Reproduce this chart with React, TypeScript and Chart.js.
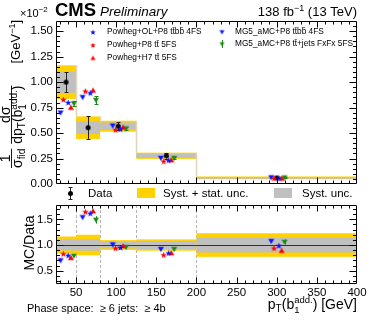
import React, { useEffect, useRef } from "react";
import { Chart, registerables } from "chart.js";
Chart.register(...registerables);

const FONT = '"Liberation Sans", Arial, Helvetica, sans-serif';

// ---------------- data ----------------
const binEdges = [25, 50, 80, 125, 200, 400];
const dataValues = [1.0, 0.553, 0.567, 0.277, 0.06];
const dataErrors = [0.097, 0.11, 0.04, 0.028, 0.005];
const totalUncRel = [0.165, 0.2, 0.095, 0.11, 0.23];
const systUncRel = [0.105, 0.11, 0.065, 0.08, 0.145];

const powhegOL = [0.8, 0.895, 0.54, 0.234, 0.0594];
const powhegP8 = [0.83, 0.912, 0.533, 0.224, 0.0564];
const powhegH7 = [0.75, 0.918, 0.556, 0.234, 0.0534];
const mg5ttbb = [0.7, 0.852, 0.573, 0.255, 0.0645];
const mg5fxfx = [0.79, 0.824, 0.545, 0.255, 0.0636];
const mg5fxfxErr = [0.02, 0.04, 0.015, 0.008, 0.003];

const seriesLabels = [
  "Powheg+OL+P8 tt\u0304bb\u0304 4FS",
  "Powheg+P8 tt\u0304 5FS",
  "Powheg+H7 tt\u0304 5FS",
  "MG5_aMC+P8 tt\u0304bb\u0304 4FS",
  "MG5_aMC+P8 tt\u0304+jets FxFx 5FS",
];
const seriesValues = [powhegOL, powhegP8, powhegH7, mg5ttbb, mg5fxfx];
const seriesErrors = [null, null, null, null, mg5fxfxErr];
const seriesColors = ["#0a14ff", "#ff0000", "#ff0000", "#0a14ff", "#1a8a1a"];
const seriesShapes = ["star", "star", "up", "down", "down"];
const seriesPixelShift = [2.2, -2.7, 4.9, -5.5, 7.8];

const upperYTicks = [0, 0.25, 0.5, 0.75, 1.0, 1.25, 1.5];
const ratioYTicks = [0.5, 1.0, 1.5];
const xTicks = [50, 100, 150, 200, 250, 300, 350, 400];

const YELLOW = "#ffd200";
const GRAY = "#c0c0c0";

// ---------------- helpers ----------------
function makeMarker(shape: string, color: string, size: number): HTMLCanvasElement {
  const s = Math.ceil(size) + 2;
  const c = document.createElement("canvas");
  c.width = s;
  c.height = s;
  const g = c.getContext("2d")!;
  g.fillStyle = color;
  const cx = s / 2,
    cy = s / 2,
    r = size / 2;
  g.beginPath();
  if (shape === "star") {
    for (let i = 0; i < 10; i++) {
      const a = -Math.PI / 2 + (i * Math.PI) / 5;
      const rr = i % 2 === 0 ? r : r * 0.42;
      const px = cx + rr * Math.cos(a),
        py = cy + rr * Math.sin(a) + 0.4;
      if (i === 0) g.moveTo(px, py);
      else g.lineTo(px, py);
    }
    g.closePath();
  } else if (shape === "up") {
    g.moveTo(cx, cy - r);
    g.lineTo(cx + r, cy + r * 0.75);
    g.lineTo(cx - r, cy + r * 0.75);
    g.closePath();
  } else if (shape === "down") {
    g.moveTo(cx, cy + r);
    g.lineTo(cx + r, cy - r * 0.75);
    g.lineTo(cx - r, cy - r * 0.75);
    g.closePath();
  } else {
    g.arc(cx, cy, r, 0, Math.PI * 2);
  }
  g.fill();
  return c;
}

type Piece = { t: string; size: number; dy?: number; style?: string; adv?: number };
function font(p: Piece) {
  return `${p.style ?? ""} ${p.size}px ${FONT}`;
}
function richWidth(ctx: CanvasRenderingContext2D, parts: Piece[]) {
  let w = 0;
  for (const p of parts) {
    ctx.font = font(p);
    w += p.adv !== undefined ? p.adv : ctx.measureText(p.t).width;
  }
  return w;
}
function drawRich(ctx: CanvasRenderingContext2D, parts: Piece[], x: number, y: number) {
  let cx = x;
  ctx.textAlign = "left";
  ctx.textBaseline = "alphabetic";
  for (const p of parts) {
    ctx.font = font(p);
    ctx.fillText(p.t, cx, y + (p.dy ?? 0));
    cx += p.adv !== undefined ? p.adv : ctx.measureText(p.t).width;
  }
  return cx - x;
}

function applyShifts(chart: any) {
  chart.data.datasets.forEach((ds: any, i: number) => {
    const meta = chart.getDatasetMeta(i);
    const sh = ds.pxShift || 0;
    meta.data.forEach((el: any) => {
      el.x += sh;
    });
  });
}

function drawErrorBars(chart: any, cap: number) {
  const { ctx, scales } = chart;
  const y = scales.y;
  chart.data.datasets.forEach((ds: any, i: number) => {
    if (!ds.errs) return;
    const meta = chart.getDatasetMeta(i);
    ctx.strokeStyle = ds.errColor;
    ctx.lineWidth = 1;
    meta.data.forEach((el: any, j: number) => {
      const v = ds.data[j].y;
      const e = ds.errs[j];
      const x = Math.round(el.x) + 0.5;
      const y0 = y.getPixelForValue(v + e);
      const y1 = y.getPixelForValue(v - e);
      ctx.beginPath();
      ctx.moveTo(x, y0);
      ctx.lineTo(x, y1);
      if (cap > 0) {
        ctx.moveTo(x - cap, Math.round(y0) + 0.5);
        ctx.lineTo(x + cap, Math.round(y0) + 0.5);
        ctx.moveTo(x - cap, Math.round(y1) + 0.5);
        ctx.lineTo(x + cap, Math.round(y1) + 0.5);
      }
      ctx.stroke();
    });
  });
}

function drawFrame(
  ctx: CanvasRenderingContext2D,
  a: any,
  xs: any,
  ys: any,
  yMajor: number[],
  yMinorStep: number,
  yMin: number,
  yMax: number
) {
  ctx.save();
  ctx.strokeStyle = "#000";
  ctx.lineWidth = 1;
  const L = Math.round(a.left) + 0.5,
    R = Math.round(a.right) - 0.5,
    T = Math.round(a.top) + 0.5,
    B = Math.round(a.bottom) - 0.5;
  ctx.beginPath();
  ctx.rect(L, T, R - L, B - T);
  ctx.stroke();
  ctx.beginPath();
  for (let v = 30; v < 400; v += 10) {
    const px = Math.round(xs.getPixelForValue(v)) + 0.5;
    const len = v % 50 === 0 ? 6 : 3;
    ctx.moveTo(px, B);
    ctx.lineTo(px, B - len);
    ctx.moveTo(px, T);
    ctx.lineTo(px, T + len);
  }
  const steps = Math.round((yMax - yMin) / yMinorStep) + 2;
  const start = Math.ceil(yMin / yMinorStep - 1e-6) * yMinorStep;
  for (let k = 0; k < steps; k++) {
    const v = start + k * yMinorStep;
    if (v <= yMin + 1e-6 || v >= yMax - 1e-6) continue;
    const py = Math.round(ys.getPixelForValue(v)) + 0.5;
    const major = yMajor.some((m) => Math.abs(m - v) < 1e-6);
    const len = major ? 7 : 3.5;
    ctx.moveTo(L, py);
    ctx.lineTo(L + len, py);
    ctx.moveTo(R, py);
    ctx.lineTo(R - len, py);
  }
  ctx.stroke();
  ctx.restore();
}

const commonOpts: any = {
  responsive: false,
  animation: false,
  events: [],
  plugins: { legend: { display: false }, tooltip: { enabled: false } },
};

export default function App() {
  const upRef = useRef<HTMLCanvasElement>(null);
  const loRef = useRef<HTMLCanvasElement>(null);

  useEffect(() => {
    const centers = binEdges.slice(0, -1).map((e, i) => (e + binEdges[i + 1]) / 2);
    const markers = seriesShapes.map((s, i) => makeMarker(s, seriesColors[i], s === "star" ? 7 : 6));
    const legMarkers = seriesShapes.map((s, i) => makeMarker(s, seriesColors[i], s === "star" ? 6 : 5));
    const dot = makeMarker("circle", "#000", 5);

    const mcUpper = seriesValues.map((vals, k) => ({
      data: centers.map((x, i) => ({ x, y: vals[i] })),
      pointStyle: markers[k],
      pointRadius: 3,
      showLine: false,
      pxShift: seriesPixelShift[k],
      errs: seriesErrors[k],
      errColor: seriesColors[k],
    }));
    const dataDs = {
      data: centers.map((x, i) => ({ x, y: dataValues[i] })),
      pointStyle: dot,
      pointRadius: 3,
      showLine: false,
      pxShift: 0,
      errs: dataErrors,
      errColor: "#222",
    };

    const upperPlugin = {
      id: "upperDeco",
      afterDatasetsUpdate(chart: any) {
        applyShifts(chart);
      },
      beforeDatasetsDraw(chart: any) {
        const { ctx, chartArea: a, scales } = chart;
        const x = scales.x,
          y = scales.y;
        ctx.save();
        ctx.beginPath();
        ctx.rect(a.left, a.top, a.right - a.left, a.bottom - a.top);
        ctx.clip();
        for (let i = 0; i < dataValues.length; i++) {
          const x0 = x.getPixelForValue(binEdges[i]);
          const x1 = x.getPixelForValue(binEdges[i + 1]);
          const v = dataValues[i];
          const yt0 = y.getPixelForValue(v * (1 + totalUncRel[i]));
          const yt1 = y.getPixelForValue(v * (1 - totalUncRel[i]));
          ctx.fillStyle = YELLOW;
          ctx.fillRect(x0, yt0, x1 - x0, yt1 - yt0);
          const ys0 = y.getPixelForValue(v * (1 + systUncRel[i]));
          const ys1 = y.getPixelForValue(v * (1 - systUncRel[i]));
          ctx.fillStyle = GRAY;
          ctx.fillRect(x0, ys0, x1 - x0, ys1 - ys0);
        }
        ctx.strokeStyle = "#dcd6bc";
        ctx.lineWidth = 1.5;
        ctx.beginPath();
        for (let i = 1; i < dataValues.length; i++) {
          const xe = Math.round(x.getPixelForValue(binEdges[i])) + 0.5;
          const ya = y.getPixelForValue(dataValues[i - 1] * (1 + totalUncRel[i - 1]));
          const yb = y.getPixelForValue(dataValues[i] * (1 + totalUncRel[i]));
          ctx.moveTo(xe, ya);
          ctx.lineTo(xe, yb);
        }
        ctx.stroke();
        drawErrorBars(chart, 2);
        ctx.restore();
      },
      afterDraw(chart: any) {
        const { ctx, chartArea: a, scales } = chart;
        drawFrame(ctx, a, scales.x, scales.y, upperYTicks, 0.05, 0, 1.6);
        ctx.save();
        ctx.fillStyle = "#000";
        drawRich(ctx, [{ t: "CMS", size: 18.5, style: "bold" }], 55, 16);
        drawRich(ctx, [{ t: "Preliminary", size: 13.5, style: "italic" }], 100, 16);
        const lumi: Piece[] = [
          { t: "138 fb", size: 13 },
          { t: "\u22121", size: 9, dy: -5 },
          { t: " (13 TeV)", size: 13 },
        ];
        drawRich(ctx, lumi, 357 - richWidth(ctx, lumi), 16);
        drawRich(
          ctx,
          [
            { t: "\u00d710", size: 11 },
            { t: "\u22122", size: 8, dy: -5 },
          ],
          20,
          17
        );
        const legPos = [
          [93, 107, 32],
          [93, 107, 45],
          [93, 107, 58],
          [222, 235, 32],
          [222, 235, 44],
        ];
        seriesLabels.forEach((lab, k) => {
          const [mx, tx, ty] = legPos[k];
          const m = legMarkers[k];
          ctx.drawImage(m, mx - m.width / 2, ty - m.height / 2);
          if (k === 4) {
            ctx.strokeStyle = seriesColors[k];
            ctx.beginPath();
            ctx.moveTo(mx + 0.5, ty - 4);
            ctx.lineTo(mx + 0.5, ty + 4);
            ctx.stroke();
          }
          ctx.fillStyle = "#000";
          ctx.font = `8.3px ${FONT}`;
          ctx.textBaseline = "middle";
          ctx.fillText(lab, tx, ty);
        });
        ctx.strokeStyle = "#222";
        ctx.lineWidth = 1;
        ctx.beginPath();
        ctx.moveTo(70.5, 187);
        ctx.lineTo(70.5, 200);
        ctx.moveTo(68.5, 187.5);
        ctx.lineTo(72.5, 187.5);
        ctx.moveTo(68.5, 199.5);
        ctx.lineTo(72.5, 199.5);
        ctx.stroke();
        ctx.drawImage(dot, 70.5 - dot.width / 2, 193.5 - dot.height / 2);
        ctx.fillStyle = YELLOW;
        ctx.fillRect(137, 188, 18, 10);
        ctx.fillStyle = GRAY;
        ctx.fillRect(274, 188, 18, 10);
        ctx.fillStyle = "#000";
        drawRich(ctx, [{ t: "Data", size: 11.5 }], 88, 197);
        drawRich(ctx, [{ t: "Syst. + stat. unc.", size: 11.5 }], 163, 197);
        drawRich(ctx, [{ t: "Syst. unc.", size: 11.5 }], 302, 197);
        // y title (rotated): local x = upward along page
        ctx.save();
        ctx.translate(0, 170);
        ctx.rotate(-Math.PI / 2);
        const fs = 14;
        const ss = 10;
        const lineY = 11.5;
        const numY = 10;
        const denY = 22;
        ctx.strokeStyle = "#000";
        ctx.lineWidth = 0.9;
        const denA: Piece[] = [
          { t: "\u03c3", size: fs },
          { t: "fid", size: ss, dy: 3 },
        ];
        const wA = richWidth(ctx, denA);
        ctx.font = `${fs}px ${FONT}`;
        const w1 = ctx.measureText("1").width;
        let u = 2;
        drawRich(ctx, [{ t: "1", size: fs }], u + (wA - w1) / 2, numY);
        drawRich(ctx, denA, u, denY);
        ctx.beginPath();
        ctx.moveTo(u, lineY);
        ctx.lineTo(u + wA, lineY);
        ctx.stroke();
        u += wA + 5;
        const denB: Piece[] = [
          { t: "dp", size: fs },
          { t: "T", size: ss, dy: 3 },
          { t: "(b", size: fs },
          { t: "1", size: ss, dy: 3.5, adv: 0 },
          { t: "add.", size: ss, dy: -5.5 },
          { t: ")", size: fs },
        ];
        const wB = richWidth(ctx, denB);
        const numB: Piece[] = [{ t: "d\u03c3", size: fs }];
        const wN = richWidth(ctx, numB);
        drawRich(ctx, numB, u + (wB - wN) / 2, numY);
        drawRich(ctx, denB, u, denY);
        ctx.beginPath();
        ctx.moveTo(u, lineY);
        ctx.lineTo(u + wB, lineY);
        ctx.stroke();
        const gev: Piece[] = [
          { t: "[GeV", size: 13 },
          { t: "\u22121", size: 9, dy: -5 },
          { t: "]", size: 13 },
        ];
        const wG = richWidth(ctx, gev);
        drawRich(ctx, gev, 150 - wG, 20);
        ctx.restore();
        ctx.restore();
      },
    };

    const upper = new Chart(upRef.current!, {
      type: "scatter",
      data: { datasets: [...mcUpper, dataDs] as any },
      options: {
        ...commonOpts,
        layout: { padding: { left: 0, right: 16, top: 21, bottom: 16 } },
        scales: {
          x: { type: "linear", min: 25, max: 400, display: false },
          y: {
            type: "linear",
            min: 0,
            max: 1.6,
            grid: { display: false, drawTicks: false },
            border: { display: false },
            afterBuildTicks: (s: any) => {
              s.ticks = upperYTicks.map((v) => ({ value: v }));
            },
            ticks: {
              callback: (v: any) => Number(v).toFixed(2),
              font: { family: FONT, size: 11.5 },
              color: "#000",
              padding: 3,
            },
            afterFit: (s: any) => {
              s.width = 56;
              s.paddingTop = 0;
              s.paddingBottom = 0;
            },
          } as any,
        },
      },
      plugins: [upperPlugin],
    });

    const mcRatio = seriesValues.map((vals, k) => ({
      data: centers.map((x, i) => ({ x, y: vals[i] / dataValues[i] })),
      pointStyle: markers[k],
      pointRadius: 3,
      showLine: false,
      pxShift: seriesPixelShift[k],
      errs: seriesErrors[k] ? (seriesErrors[k] as number[]).map((e, i) => e / dataValues[i]) : null,
      errColor: seriesColors[k],
    }));

    const lowerPlugin = {
      id: "lowerDeco",
      afterDatasetsUpdate(chart: any) {
        applyShifts(chart);
      },
      beforeDatasetsDraw(chart: any) {
        const { ctx, chartArea: a, scales } = chart;
        const x = scales.x,
          y = scales.y;
        ctx.save();
        ctx.beginPath();
        ctx.rect(a.left, a.top, a.right - a.left, a.bottom - a.top);
        ctx.clip();
        ctx.strokeStyle = "#b4b4b4";
        ctx.lineWidth = 1;
        ctx.setLineDash([3, 2]);
        ctx.beginPath();
        for (let i = 1; i < binEdges.length - 1; i++) {
          const xe = Math.round(x.getPixelForValue(binEdges[i])) + 0.5;
          ctx.moveTo(xe, a.top);
          ctx.lineTo(xe, a.bottom);
        }
        ctx.stroke();
        ctx.setLineDash([]);
        for (let i = 0; i < dataValues.length; i++) {
          const x0 = x.getPixelForValue(binEdges[i]);
          const x1 = x.getPixelForValue(binEdges[i + 1]);
          const yt0 = y.getPixelForValue(1 + totalUncRel[i]);
          const yt1 = y.getPixelForValue(1 - totalUncRel[i]);
          ctx.fillStyle = YELLOW;
          ctx.fillRect(x0, yt0, x1 - x0, yt1 - yt0);
          const ys0 = y.getPixelForValue(1 + systUncRel[i]);
          const ys1 = y.getPixelForValue(1 - systUncRel[i]);
          ctx.fillStyle = GRAY;
          ctx.fillRect(x0, ys0, x1 - x0, ys1 - ys0);
        }
        ctx.strokeStyle = "#333";
        ctx.lineWidth = 1;
        ctx.beginPath();
        const y1 = Math.round(y.getPixelForValue(1)) + 0.5;
        ctx.moveTo(a.left, y1);
        ctx.lineTo(a.right, y1);
        ctx.stroke();
        drawErrorBars(chart, 0);
        ctx.restore();
      },
      afterDraw(chart: any) {
        const { ctx, chartArea: a, scales } = chart;
        drawFrame(ctx, a, scales.x, scales.y, ratioYTicks, 0.1, 0.24, 1.78);
        ctx.save();
        ctx.fillStyle = "#000";
        ctx.save();
        ctx.translate(30, 43);
        ctx.rotate(-Math.PI / 2);
        ctx.font = `14px ${FONT}`;
        ctx.textAlign = "center";
        ctx.textBaseline = "middle";
        ctx.fillText("MC/Data", 0, 0);
        ctx.restore();
        const xt: Piece[] = [
          { t: "p", size: 14 },
          { t: "T", size: 10, dy: 3 },
          { t: "(b", size: 14 },
          { t: "1", size: 9.5, dy: 3.5, adv: 0 },
          { t: "add.", size: 9.5, dy: -6 },
          { t: ") [GeV]", size: 14 },
        ];
        drawRich(ctx, xt, 357 - richWidth(ctx, xt), 109);
        drawRich(ctx, [{ t: "Phase space:  \u2265 6 jets:  \u2265 4b", size: 11 }], 27, 112);
        ctx.restore();
      },
    };

    const lower = new Chart(loRef.current!, {
      type: "scatter",
      data: { datasets: mcRatio as any },
      options: {
        ...commonOpts,
        layout: { padding: { left: 0, right: 16, top: 1, bottom: 0 } },
        scales: {
          x: {
            type: "linear",
            min: 25,
            max: 400,
            grid: { display: false, drawTicks: false },
            border: { display: false },
            afterBuildTicks: (s: any) => {
              s.ticks = xTicks.map((v) => ({ value: v }));
            },
            ticks: {
              callback: (v: any) => String(v),
              font: { family: FONT, size: 11.5 },
              color: "#000",
              padding: 2,
              autoSkip: false,
              maxRotation: 0,
            },
            afterFit: (s: any) => {
              s.height = 36;
              s.paddingLeft = 0;
              s.paddingRight = 0;
            },
          } as any,
          y: {
            type: "linear",
            min: 0.24,
            max: 1.78,
            grid: { display: false, drawTicks: false },
            border: { display: false },
            afterBuildTicks: (s: any) => {
              s.ticks = ratioYTicks.map((v) => ({ value: v }));
            },
            ticks: {
              callback: (v: any) => Number(v).toFixed(1),
              font: { family: FONT, size: 11.5 },
              color: "#000",
              padding: 3,
            },
            afterFit: (s: any) => {
              s.width = 56;
              s.paddingTop = 0;
              s.paddingBottom = 0;
            },
          } as any,
        },
      },
      plugins: [lowerPlugin],
    });

    return () => {
      upper.destroy();
      lower.destroy();
    };
  }, []);

  return (
    <div style={{ position: "fixed", left: 0, top: 0, width: 373, height: 320, background: "#fff" }}>
      <canvas ref={upRef} width={373} height={200} style={{ position: "absolute", left: 0, top: 0 }} />
      <canvas ref={loRef} width={373} height={120} style={{ position: "absolute", left: 0, top: 200 }} />
    </div>
  );
}
